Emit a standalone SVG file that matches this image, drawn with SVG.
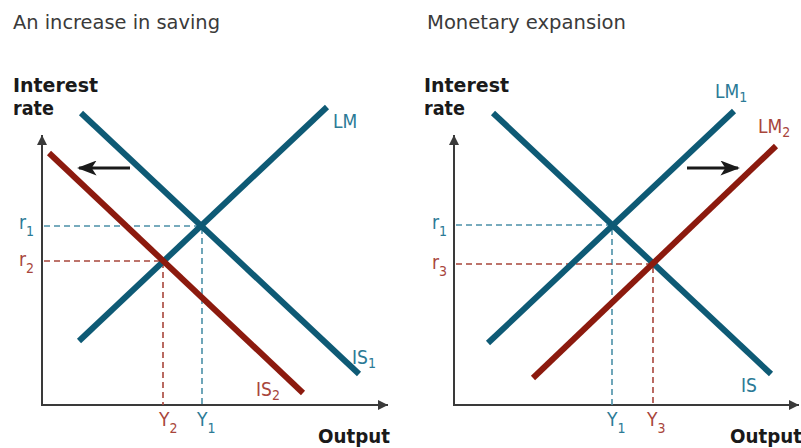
<svg xmlns="http://www.w3.org/2000/svg" width="801" height="448" viewBox="0 0 801 448">
<defs>
<style>
.t{font-family:"DejaVu Sans Condensed","DejaVu Sans",sans-serif;}
.title{font-size:19px;fill:#3a3a3a;}
.ax{font-size:19px;font-weight:bold;fill:#1a1a1a;}
.bl{fill:#2b7a96;}
.rd{fill:#a8453b;}
.lab{font-size:19px;}
.sub{font-size:14px;}
.axis{stroke:#3a3a3a;stroke-width:2;fill:none;}
.cb{stroke:#0e5a75;stroke-width:6;fill:none;stroke-linecap:butt;}
.cr{stroke:#8c1a0e;stroke-width:6;fill:none;stroke-linecap:butt;}
.db{stroke:#4b90a8;stroke-width:1.6;stroke-dasharray:6,4;fill:none;}
.dr{stroke:#a8453b;stroke-width:1.6;stroke-dasharray:6,4;fill:none;}
.shift{stroke:#1a1a1a;stroke-width:3;fill:none;}
</style>
<marker id="axh" viewBox="0 0 10 10" refX="10" refY="5" markerWidth="5" markerHeight="5" markerUnits="strokeWidth" orient="auto">
<path d="M0,0 L10,5 L0,10 Z" fill="#3a3a3a"/>
</marker>
<marker id="sh" viewBox="0 0 10 10" refX="9" refY="5" markerWidth="6.5" markerHeight="5" markerUnits="strokeWidth" orient="auto" preserveAspectRatio="none">
<path d="M0,0 L10,5 L0,10 L2.5,5 Z" fill="#1a1a1a"/>
</marker>
</defs>

<g id="left-panel">
<text class="t title" x="13" y="29" textLength="207" lengthAdjust="spacingAndGlyphs">An increase in saving</text>
<text class="t ax" x="13" y="92" textLength="85" lengthAdjust="spacingAndGlyphs">Interest</text>
<text class="t ax" x="13" y="115" textLength="41" lengthAdjust="spacingAndGlyphs">rate</text>
<text class="t ax" x="318" y="443" textLength="72" lengthAdjust="spacingAndGlyphs">Output</text>
</g>

<g id="left-axes">
<line class="axis" x1="42" y1="406" x2="42" y2="135" marker-end="url(#axh)"/>
<line class="axis" x1="41" y1="405" x2="388" y2="405" marker-end="url(#axh)"/>
</g>

<g id="left-guides">
<path class="db" d="M44,226 H202 V405"/>
<path class="dr" d="M44,261 H163 V405"/>
</g>

<g id="left-curves">
<g id="LM-left"><line class="cb" x1="79" y1="341" x2="327" y2="107"/><text class="t lab bl" x="333" y="128">LM</text></g>
<g id="IS1-left"><line class="cb" x1="81" y1="113" x2="359" y2="374"/><text class="t lab bl" x="352" y="364">IS<tspan class="sub" dy="4">1</tspan></text></g>
<g id="IS2-left"><line class="cr" x1="49" y1="153" x2="303" y2="393"/><text class="t lab rd" x="256" y="396">IS<tspan class="sub" dy="4">2</tspan></text></g>
</g>

<g id="left-labels">
<text class="t lab bl" x="19" y="229">r<tspan class="sub" dy="7">1</tspan></text>
<text class="t lab rd" x="19" y="266">r<tspan class="sub" dy="7">2</tspan></text>
<text class="t lab rd" x="159" y="426">Y<tspan class="sub" dy="7">2</tspan></text>
<text class="t lab bl" x="197" y="426">Y<tspan class="sub" dy="7">1</tspan></text>
</g>

<g id="left-shift">
<line class="shift" x1="130" y1="168" x2="79" y2="168" marker-end="url(#sh)"/>
</g>

<g id="right-panel">
<text class="t title" x="427" y="29" textLength="199" lengthAdjust="spacingAndGlyphs">Monetary expansion</text>
<text class="t ax" x="424" y="92" textLength="85" lengthAdjust="spacingAndGlyphs">Interest</text>
<text class="t ax" x="424" y="115" textLength="41" lengthAdjust="spacingAndGlyphs">rate</text>
<text class="t ax" x="730" y="443" textLength="72" lengthAdjust="spacingAndGlyphs">Output</text>
</g>

<g id="right-axes">
<line class="axis" x1="454" y1="406" x2="454" y2="135" marker-end="url(#axh)"/>
<line class="axis" x1="453" y1="405" x2="799" y2="405" marker-end="url(#axh)"/>
</g>

<g id="right-guides">
<path class="db" d="M456,225 H612 V405"/>
<path class="dr" d="M456,264 H653 V405"/>
</g>

<g id="right-curves">
<g id="IS-right"><line class="cb" x1="493" y1="113" x2="771" y2="374"/><text class="t lab bl" x="741" y="392">IS</text></g>
<g id="LM1-right"><line class="cb" x1="488" y1="343" x2="734" y2="111"/><text class="t lab bl" x="715" y="98">LM<tspan class="sub" dy="4">1</tspan></text></g>
<g id="LM2-right"><line class="cr" x1="533" y1="378" x2="776" y2="146"/><text class="t lab rd" x="758" y="133">LM<tspan class="sub" dy="4">2</tspan></text></g>
</g>

<g id="right-labels">
<text class="t lab bl" x="432" y="229">r<tspan class="sub" dy="7">1</tspan></text>
<text class="t lab rd" x="432" y="269">r<tspan class="sub" dy="7">3</tspan></text>
<text class="t lab bl" x="607" y="426">Y<tspan class="sub" dy="7">1</tspan></text>
<text class="t lab rd" x="647" y="426">Y<tspan class="sub" dy="7">3</tspan></text>
</g>

<g id="right-shift">
<line class="shift" x1="687" y1="168" x2="738" y2="168" marker-end="url(#sh)"/>
</g>
</svg>
